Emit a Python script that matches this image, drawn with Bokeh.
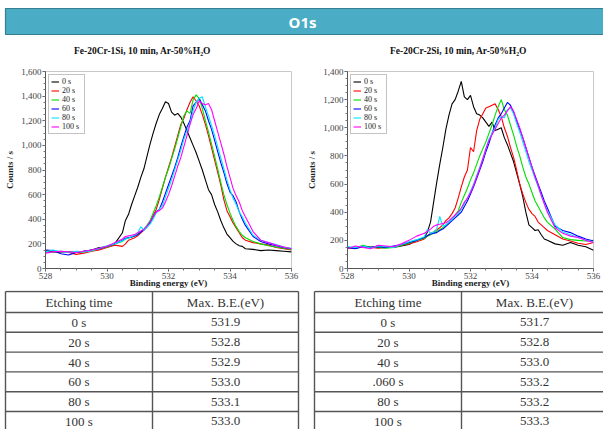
from bokeh.plotting import figure
from bokeh.layouts import column, row
from bokeh.models import Range1d, FixedTicker, NumeralTickFormatter, Legend, LegendItem
from bokeh.embed import file_html
from bokeh.resources import INLINE
from bokeh.core.properties import value

# ---------------- data ----------------
header_title = "O1s"
subtitle_left = "Fe-20Cr-1Si, 10 min, Ar-50%H\u2082O"
subtitle_right = "Fe-20Cr-2Si, 10 min, Ar-50%H\u2082O"

# binding energy sample positions (eV)
be = [528.0, 528.25, 528.5, 528.75, 529.0, 529.25, 529.5, 529.75, 530.0, 530.25,
      530.5, 530.6, 530.7, 530.8, 530.9, 531.0, 531.1, 531.2, 531.3, 531.4,
      531.5, 531.6, 531.7, 531.8, 531.9, 532.0, 532.1, 532.2, 532.3, 532.4,
      532.5, 532.6, 532.7, 532.8, 532.9, 533.0, 533.1, 533.2, 533.3, 533.4,
      533.5, 533.6, 533.7, 533.8, 533.9, 534.0, 534.1, 534.2, 534.3, 534.4,
      534.5, 534.75, 535.0, 535.25, 535.5, 535.75, 536.0]

series_labels = ["0 s", "20 s", "40 s", "60 s", "80 s", "100 s"]

# Fe-20Cr-1Si (counts / s)
si1_0s = [140, 135, 130, 135, 130, 140, 150, 170, 175, 200,
          290, 390, 440, 520, 590, 660, 740, 810, 910, 1010,
          1100, 1180, 1250, 1300, 1355, 1340, 1270, 1245, 1260, 1230,
          1180, 1120, 1060, 1000, 940, 870, 800, 720, 640, 600,
          520, 460, 390, 330, 280, 250, 220, 200, 185, 180,
          160, 155, 145, 150, 145, 140, 135]
si1_20s = [145, 140, 130, 130, 115, 125, 140, 150, 170, 190,
           180, 200, 230, 240, 250, 265, 290, 310, 340, 380,
           430, 480, 560, 650, 740, 820, 900, 990, 1080, 1170,
           1220, 1290, 1350, 1395, 1360, 1320, 1250, 1170, 1080, 980,
           880, 780, 680, 560, 470, 420, 370, 330, 290, 250,
           230, 210, 200, 190, 170, 160, 150]
si1_40s = [130, 130, 140, 135, 130, 135, 145, 160, 175, 200,
           220, 240, 250, 255, 265, 280, 300, 320, 350, 390,
           450, 510, 580, 660, 740, 810, 890, 970, 1060, 1150,
           1240, 1280, 1260, 1370, 1410, 1380, 1300, 1200, 1110, 1010,
           910, 810, 700, 600, 520, 450, 390, 340, 300, 270,
           250, 220, 200, 185, 175, 165, 155]
si1_60s = [150, 145, 120, 110, 130, 140, 150, 160, 180, 200,
           230, 245, 250, 255, 265, 275, 295, 315, 340, 370,
           420, 460, 480, 540, 610, 680, 750, 820, 900, 990,
           1070, 1150, 1200, 1320, 1350, 1380, 1330, 1280, 1200, 1130,
           1040, 950, 860, 780, 690, 620, 590, 540, 460, 400,
           350, 260, 220, 200, 185, 170, 160]
si1_80s = [135, 150, 135, 130, 140, 135, 145, 165, 185, 200,
           225, 240, 245, 260, 270, 290, 340, 310, 335, 360,
           400, 450, 480, 510, 580, 650, 720, 800, 880, 960,
           1050, 1120, 1180, 1280, 1350, 1380, 1395, 1310, 1240, 1160,
           1080, 990, 900, 810, 720, 640, 570, 520, 460, 420,
           370, 270, 230, 210, 195, 175, 165]
si1_100s = [125, 135, 140, 135, 130, 140, 150, 165, 180, 210,
            240, 260, 265, 270, 275, 290, 305, 320, 345, 380,
            420, 460, 470, 490, 540, 600, 670, 750, 830, 900,
            990, 1080, 1170, 1250, 1300, 1360, 1340, 1330, 1340, 1290,
            1200, 1110, 1020, 930, 830, 740, 650, 590, 540, 470,
            420, 300, 230, 210, 190, 175, 160]

# Fe-20Cr-2Si (counts / s)
si2_0s = [150, 145, 155, 150, 160, 150, 150, 160, 170, 200,
          220, 260, 330, 470, 610, 740, 860, 990, 1090, 1170,
          1200, 1260, 1330, 1220, 1200, 1230, 1150, 1100, 1090, 1070,
          1040, 1010, 1040, 980, 990, 1000, 930, 880, 820, 760,
          680, 600, 510, 400, 310, 290, 270, 275, 240, 210,
          200, 175, 165, 185, 165, 155, 130]
si2_20s = [140, 150, 155, 150, 145, 150, 155, 165, 175, 190,
           210, 230, 250, 260, 275, 290, 310, 340, 360, 390,
           430, 500, 580, 650, 700, 860, 830, 980, 1060, 1100,
           1140, 1150, 1160, 1170, 1130, 1080, 1000, 940, 860, 790,
           700, 600, 530, 470, 420, 390, 370, 330, 310, 290,
           270, 240, 210, 195, 180, 170, 185]
si2_40s = [145, 145, 165, 150, 150, 145, 150, 165, 180, 200,
           215, 230, 240, 250, 265, 275, 290, 310, 330, 350,
           380, 410, 470, 520, 570, 630, 680, 740, 800, 850,
           900, 960, 1020, 1090, 1150, 1200, 1130, 1090, 1020, 950,
           870, 800, 720, 650, 600, 540, 480, 440, 400, 360,
           330, 280, 220, 205, 200, 195, 200]
si2_60s = [150, 140, 155, 150, 155, 150, 160, 170, 185, 200,
           220, 235, 245, 250, 255, 270, 280, 300, 320, 340,
           360, 380, 400, 440, 480, 530, 580, 640, 700, 760,
           830, 890, 960, 1020, 1070, 1100, 1140, 1180, 1160, 1110,
           1050, 990, 930, 860, 790, 720, 660, 600, 540, 480,
           430, 300, 270, 255, 230, 210, 195]
si2_80s = [155, 150, 160, 145, 160, 155, 150, 170, 190, 205,
           225, 280, 250, 260, 280, 370, 300, 310, 330, 350,
           370, 390, 420, 460, 500, 550, 600, 660, 720, 780,
           850, 920, 960, 1000, 1060, 1080, 1070, 1130, 1140, 1100,
           1030, 970, 900, 830, 760, 700, 640, 580, 520, 460,
           410, 310, 260, 240, 220, 200, 190]
si2_100s = [140, 160, 150, 140, 165, 160, 155, 175, 200, 230,
            250, 265, 280, 300, 310, 315, 320, 325, 340, 360,
            380, 400, 430, 470, 500, 540, 590, 650, 710, 780,
            850, 910, 950, 990, 1030, 1070, 1090, 1120, 1150, 1120,
            1060, 1000, 930, 860, 790, 720, 650, 590, 520, 460,
            400, 290, 250, 230, 220, 200, 185]

x_ticks = [528, 530, 532, 534, 536]
y_ticks_left = [0, 200, 400, 600, 800, 1000, 1200, 1400, 1600]
y_ticks_right = [0, 200, 400, 600, 800, 1000, 1200, 1400]

# tables
table_head = ["Etching time", "Max. B.E.(eV)"]
etch_left = ["0 s", "20 s", "40 s", "60 s", "80 s", "100 s"]
maxbe_left = [531.9, 532.8, 532.9, 533.0, 533.1, 533.0]
etch_right = ["0 s", "20 s", "40 s", ".060 s", "80 s", "100 s"]
maxbe_right = [531.7, 532.8, 533.0, 533.2, 533.2, 533.3]

colors = ["#000000", "#ff0000", "#00dd00", "#0000ff", "#00e5ff", "#ff00ff"]
SERIF = '"Liberation Serif", "Times New Roman", serif'

W = 603

# ---------------- header ----------------
hdr = figure(width=W, height=62, x_range=Range1d(0, W), y_range=Range1d(62, 0),
             output_backend="svg", toolbar_location=None, min_border=0,
             x_axis_location=None, y_axis_location=None)
hdr.grid.visible = False
hdr.outline_line_color = None
hdr.quad(left=[5], right=[610], top=[8], bottom=[34], fill_color="#4BACC6",
         line_color="#357F93", line_width=1.2)
hdr.text(x=[302], y=[21.5], text=[header_title], text_align="center", text_baseline="middle",
         text_color="white", text_font=value("Noto Sans"), text_font_size="15px",
         text_font_style="bold")
hdr.text(x=[142, 458], y=[50, 50], text=[subtitle_left, subtitle_right], text_align="center",
         text_baseline="middle", text_color="#111111", text_font=value(SERIF),
         text_font_size="9.5px", text_font_style="bold")


# ---------------- spectra ----------------
def make_plot(width, bl, br, ymax, yticks, series):
    p = figure(width=width, height=228, x_range=Range1d(528, 536), y_range=Range1d(0, ymax),
               output_backend="svg", toolbar_location=None,
               min_border_left=bl, min_border_right=br, min_border_top=9, min_border_bottom=22)
    p.grid.visible = False
    p.outline_line_color = "#c8c8c8"
    p.xaxis.ticker = FixedTicker(ticks=x_ticks, minor_ticks=[528 + 0.5 * i for i in range(17)])
    p.yaxis.ticker = FixedTicker(ticks=yticks, minor_ticks=list(range(0, ymax + 1, 50)))
    p.yaxis.formatter = NumeralTickFormatter(format="0,0")
    p.xaxis.axis_label = "Binding energy (eV)"
    p.yaxis.axis_label = "Counts / s"
    for ax in (p.xaxis, p.yaxis):
        ax.axis_line_color = "#555555"
        ax.major_tick_line_color = "#555555"
        ax.minor_tick_line_color = "#777777"
        ax.major_tick_out = 3
        ax.major_tick_in = 0
        ax.minor_tick_out = 2
        ax.minor_tick_in = 0
        ax.major_label_text_font = SERIF
        ax.major_label_text_font_size = "9px"
        ax.major_label_text_color = "#444444"
        ax.major_label_standoff = 1
        ax.axis_label_text_font = SERIF
        ax.axis_label_text_font_size = "9px"
        ax.axis_label_text_font_style = "bold"
        ax.axis_label_text_color = "#222222"
    p.xaxis.axis_label_standoff = -4
    p.yaxis.axis_label_standoff = 3
    items = []
    for lab, ys, c in zip(series_labels, series, colors):
        r = p.line(be, ys, line_color=c, line_width=1.1)
        items.append(LegendItem(label=lab, renderers=[r]))
    leg = Legend(items=items, location="top_left", margin=3, padding=2, spacing=0,
                 label_height=9, glyph_height=9, glyph_width=8, label_standoff=3,
                 label_text_font=SERIF, label_text_font_size="8px", label_text_color="#222222",
                 border_line_color="#888888", border_line_width=1, background_fill_alpha=1)
    p.add_layout(leg)
    return p


p1 = make_plot(300, 45, 9, 1600, y_ticks_left,
               [si1_0s, si1_20s, si1_40s, si1_60s, si1_80s, si1_100s])
p2 = make_plot(303, 47, 10, 1400, y_ticks_right,
               [si2_0s, si2_20s, si2_40s, si2_60s, si2_80s, si2_100s])

# ---------------- tables ----------------
tbl = figure(width=W, height=139, x_range=Range1d(0, W), y_range=Range1d(429, 290),
             output_backend="svg", toolbar_location=None, min_border=0,
             x_axis_location=None, y_axis_location=None)
tbl.grid.visible = False
tbl.outline_line_color = None

row_top = 291
head_h = 21
row_h = 19.8
n = len(etch_left)
row_lines = [row_top] + [row_top + head_h + row_h * i for i in range(n + 1)]
bottom = row_lines[-1]

for (x0, xm, x1), etch, maxbe in (((5, 152, 298), etch_left, maxbe_left),
                                   ((314, 461, 607), etch_right, maxbe_right)):
    tbl.segment(x0=[x0] * len(row_lines), x1=[x1] * len(row_lines), y0=row_lines, y1=row_lines,
                line_color="#555555", line_width=1.4)
    tbl.segment(x0=[x0, xm, x1], x1=[x0, xm, x1], y0=[row_top] * 3, y1=[bottom] * 3,
                line_color="#555555", line_width=1.4)
    c1 = (x0 + xm) / 2
    c2 = (xm + x1) / 2
    hy = row_top + head_h / 2
    tbl.text(x=[c1, c2], y=[hy, hy], text=table_head, text_align="center", text_baseline="middle",
             text_color="#333333", text_font=value(SERIF), text_font_size="13px")
    ys = [row_top + head_h + row_h * (i + 0.5) for i in range(n)]
    tbl.text(x=[c1] * n, y=ys, text=etch, text_align="center", text_baseline="middle",
             text_color="#333333", text_font=value(SERIF), text_font_size="13px")
    tbl.text(x=[c2] * n, y=ys, text=["%.1f" % v for v in maxbe], text_align="center",
             text_baseline="middle", text_color="#333333", text_font=value(SERIF),
             text_font_size="13px")

layout = column(hdr, row(p1, p2), tbl)

open("out.html", "w").write(file_html(layout, INLINE))
